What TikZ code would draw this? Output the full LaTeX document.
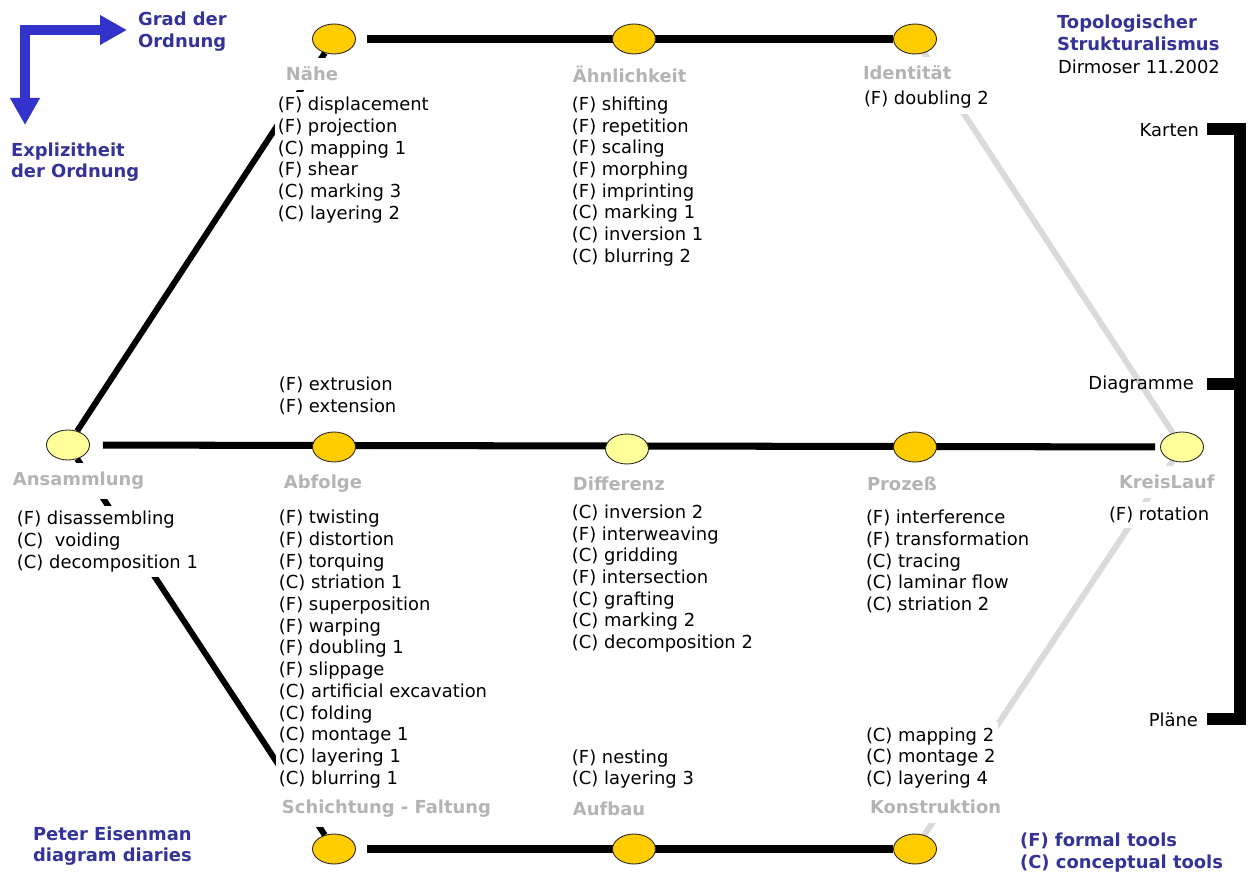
\documentclass[tikz,border=0pt]{standalone}
\usepackage{fontspec}
\setmainfont{DejaVu Sans}
\usetikzlibrary{shapes.geometric,arrows.meta,backgrounds}

\definecolor{gold}{HTML}{FFCC00}
\definecolor{pale}{HTML}{FFFF99}
\definecolor{stagegrey}{HTML}{B4B4B4}
\definecolor{railgrey}{HTML}{DADADA}
\definecolor{notetext}{HTML}{333399}
\definecolor{notearrow}{HTML}{3333CC}

\tikzset{
  station/.style={ellipse, draw=black!85, line width=0.5pt, fill=gold, minimum width=0.86cm, minimum height=0.6cm, inner sep=0pt},
  palestation/.style={station, fill=pale},
  textfont/.style={font=\fontsize{10.2}{12.35}\selectfont},
  stage/.style={font=\fontsize{10.2}{12.35}\selectfont\bfseries, text=stagegrey, fill=white, anchor=west, inner xsep=1.5pt, inner ysep=5pt},
  tools/.style={textfont, align=left, anchor=west, fill=white, inner xsep=1.5pt, inner ysep=3pt},
  note/.style={font=\fontsize{10.2}{12.35}\selectfont\bfseries, text=notetext, align=left, anchor=west, inner sep=1pt},
  scalelabel/.style={textfont, anchor=east, inner sep=1pt},
  rail/.style={line width=4pt, black},
  slant/.style={line width=3.4pt, black},
  greyslant/.style={line width=3.4pt, railgrey}
}

\begin{document}
\begin{tikzpicture}[x=0.02cm,y=-0.02cm]
\useasboundingbox (0,0) rectangle (1260,891);
\pgfmathsetlengthmacro\px{0.02cm};

% stations
\node[station] (naehe) at (334,39) {};
\node[station] (aehnlichkeit) at (634,39) {};
\node[station] (identitaet) at (915,39) {};
\node[palestation] (ansammlung) at (68,445) {};
\node[station] (abfolge) at (334,447) {};
\node[palestation] (differenz) at (627,449) {};
\node[station] (prozess) at (915,447) {};
\node[palestation] (kreislauf) at (1182,447) {};
\node[station] (schichtung) at (334,849) {};
\node[station] (aufbau) at (634,849) {};
\node[station] (konstruktion) at (915,849) {};

\begin{scope}[on background layer]
\draw[rail, shorten <=11*\px] (naehe) -- (identitaet);
\draw[rail, shorten <=13*\px, shorten >=5*\px] (ansammlung) -- (kreislauf);
\draw[rail, shorten <=11*\px] (schichtung) -- (konstruktion);
\draw[slant] (ansammlung) -- (naehe);
\draw[slant] (ansammlung) -- (schichtung);
\draw[greyslant] (identitaet) -- (kreislauf);
\draw[greyslant] (kreislauf) -- (konstruktion);
\end{scope}

% stage names
\node[stage] (naehename) at (283,74) {Nähe};
\node[stage] (aehnname) at (570,74) {Ähnlichkeit};
\node[stage] (identname) at (860,73) {Identität};
\node[stage] (ansamname) at (10,481) {Ansammlung};
\node[stage] (abfname) at (281,484) {Abfolge};
\node[stage] (diffname) at (570,484) {Differenz};
\node[stage] (prozname) at (864,484) {Prozeß};
\node[stage] (kreisname) at (1116,482) {KreisLauf};
\node[stage] (schichtname) at (279,809) {Schichtung - Faltung};
\node[stage] (aufbauname) at (570,809) {Aufbau};
\node[stage] (konstname) at (867,807) {Konstruktion};

% tool lists
\node[tools] (naehelist) at (275,160) {(F) displacement\\(F) projection\\(C) mapping 1\\(F) shear\\(C) marking 3\\(C) layering 2};
\node[tools] (aehnlist) at (569,181.5) {(F) shifting\\(F) repetition\\(F) scaling\\(F) morphing\\(F) imprinting\\(C) marking 1\\(C) inversion 1\\(C) blurring 2};
\node[tools] (identlist) at (861,100) {(F) doubling 2};
\node[tools] (extrlist) at (276,396) {(F) extrusion\\(F) extension};
\node[tools] (ansamlist) at (14,541.5) {(F) disassembling\\(C)~ voiding\\(C) decomposition 1};
\node[tools] (abflist) at (276,649) {(F) twisting\\(F) distortion\\(F) torquing\\(C) striation 1\\(F) superposition\\(F) warping\\(F) doubling 1\\(F) slippage\\(C) artificial excavation\\(C) folding\\(C) montage 1\\(C) layering 1\\(C) blurring 1};
\node[tools] (difflist) at (569,578.5) {(C) inversion 2\\(F) interweaving\\(C) gridding\\(F) intersection\\(C) grafting\\(C) marking 2\\(C) decomposition 2};
\node[tools] (prozlist) at (863,561.5) {(F) interference\\(F) transformation\\(C) tracing\\(C) laminar flow\\(C) striation 2};
\node[tools] (kreislist) at (1106,515) {(F) rotation};
\node[tools] (aufbaulist) at (569,769) {(F) nesting\\(C) layering 3};
\node[tools] (konstlist) at (863,758) {(C) mapping 2\\(C) montage 2\\(C) layering 4};

% axes of order
\draw[notearrow, line width=10*\px, line join=miter, {Triangle[width=28*\px,length=27*\px]}-{Triangle[width=28*\px,length=27*\px]}] (25,125) -- (25,30) -- (127,30);
\node[note] (grad) at (136,31.5) {Grad der\\Ordnung};
\node[note] (explizit) at (9,162) {Explizitheit\\der Ordnung};

\node[note] (title) at (1055,33) {Topologischer\\Strukturalismus};
\node[textfont, anchor=west, inner sep=1pt] (author) at (1056,67) {Dirmoser 11.2002};
\node[note] (source) at (31,846) {Peter Eisenman\\diagram diaries};
\node[note] (legend) at (1018,852.5) {(F) formal tools\\(C) conceptual tools};

% scale of representation
\node[scalelabel] (karten) at (1201,130) {Karten};
\node[scalelabel] (diagramme) at (1196,385) {Diagramme};
\node[scalelabel] (plaene) at (1200,720) {Pläne};
\draw[line width=12*\px, line join=miter] (1207,129) -| (1240,719) -- (1207,719);
\draw[line width=12*\px] (1207,384) -- (1240,384);
\end{tikzpicture}
\end{document}
